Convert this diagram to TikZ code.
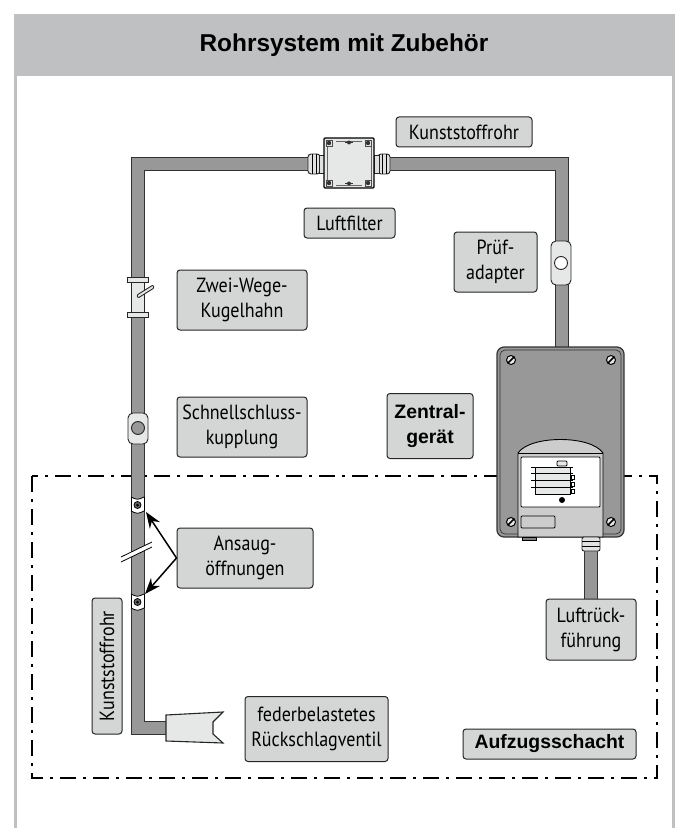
\documentclass[tikz,border=0pt]{standalone}
\usepackage{fontspec}
\setmainfont[FakeStretch=0.88]{PT Sans}
\newfontfamily\headfont{Liberation Sans}
\usetikzlibrary{shapes,positioning,calc,arrows.meta}
\definecolor{tagfill}{HTML}{D4D5D5}
\definecolor{pipefill}{HTML}{989898}
\definecolor{partfill}{HTML}{E6E7E7}
\definecolor{headfill}{HTML}{BFC0C1}
\begin{document}
\begin{tikzpicture}[x=1pt,y=-1pt,
      tagbox/.style={draw=black!85,fill=tagfill,rounded corners=3pt,line width=1pt,align=center,inner sep=0pt,font=\fontsize{20.5}{25}\selectfont},
      tagbold/.style={tagbox,font=\headfont\bfseries\fontsize{19.4}{25}\selectfont},
      pipeout/.style={draw=black!80,line width=14pt,line join=miter},
      pipein/.style={draw=pipefill,line width=12pt,line join=miter},
      part/.style={draw=black!85,fill=partfill,line width=0.9pt},
      gland/.style={draw=black!85,fill=black!12,line width=0.9pt},
      screwhead/.style={draw=black,fill=partfill,line width=1pt}
      ]
      \useasboundingbox (0,0) rectangle (677,829);
      % frame and title
      \fill[headfill] (14,14) rectangle (675,76);
      \fill[headfill] (14,76) rectangle (17,828);
      \fill[headfill] (672,76) rectangle (675,828);
      \node[font=\headfont\bfseries\fontsize{24.4}{28}\selectfont] (title) at (344,45) {Rohrsystem mit Zubehör};
      % shaft
      \draw[line width=1.5pt,dash pattern=on 16pt off 7pt on 3pt off 7pt] (32,476) rectangle (657,778);
      % points on the pipes
      \coordinate (P1) at (137.5,728);
      \coordinate (P0) at (170,728);
      \coordinate (P2) at (137.5,164);
      \coordinate (P3) at (561.5,164);
      \coordinate (P4) at (561.5,352);
      \coordinate (P5) at (591,535);
      \coordinate (P6) at (591,599);
      \draw[pipeout] (P0) -- (P1) -- (P2) -- (P3) -- (P4);
      \draw[pipein] (P0) -- (P1) -- (P2) -- (P3) -- (P4);
      \draw[pipeout] (P5) -- (P6);
      \draw[pipein] (P5) -- (P6);
      % ball valve
      \fill[part] (131,281) rectangle (144,314);
      \draw[part] (127,277) rectangle (148,282);
      \draw[part] (127,312) rectangle (148,317);
      \draw[part,rounded corners=1pt] (137,295) -- (153,285) -- (154,288) -- (138,298) -- cycle;
      % couplings
      \draw[part,rounded corners=5pt] (128,413) rectangle (148,444);
      \draw[draw=black!85,fill=pipefill,line width=0.9pt] (138,428) circle (6.5);
      \draw[part,rounded corners=5pt] (551,241) rectangle (571,285);
      \draw[draw=black!85,fill=white,line width=0.9pt] (561,263) circle (6.5);
      % intake holes
      \foreach \holey in {505,602}{
        \fill[white] (131,\holey-8) .. controls (137.5,\holey-5) .. (144,\holey-8) -- (144,\holey+6) .. controls (137.5,\holey+9) .. (131,\holey+6) -- cycle;
        \draw[line width=0.8pt] (131,\holey-8) .. controls (137.5,\holey-5) .. (144,\holey-8);
        \draw[line width=0.8pt] (131,\holey+6) .. controls (137.5,\holey+9) .. (144,\holey+6);
        \draw[line width=0.8pt] (131,\holey-8) -- (131,\holey+6) (144,\holey-8) -- (144,\holey+6);
        \draw[fill=black!60,line width=0.8pt] (137.5,\holey) circle (3.5);
        \fill[black] (137.5,\holey) circle (1.5);
      }
      % pipe break
      \fill[white] (121,557) -- (152,542) -- (152,547) -- (121,562) -- cycle;
      \draw[line width=0.8pt] (121,557) -- (152,542) (121,562) -- (152,547);
      % check valve
      \draw[part,line width=1.1pt] (166,715) -- (223,712) -- (213,722) -- (213,734) -- (223,743) -- (166,741) -- cycle;
      % filter box with cable glands
      \draw[gland,rounded corners=3pt] (308,154) rectangle (320,174);
      \draw[gland,rounded corners=3pt] (378,154) rectangle (390,174);
      \draw[line width=0.5pt] (312,154) -- (312,174) (316,154) -- (316,174) (382,154) -- (382,174) (386,154) -- (386,174);
      \draw[gland] (319,155) rectangle (324,173);
      \draw[gland] (374,155) rectangle (379,173);
      \draw[draw=black,line width=1.2pt,fill=partfill,rounded corners=1pt] (324,138) rectangle (374,188);
      \draw[line width=0.5pt,draw=black!60] (327,146) -- (327,180) (371,146) -- (371,180) (336,141) -- (362,141) (336,185) -- (362,185);
      \foreach \cornerx in {329,368}{
        \foreach \cornery in {143,183}{
          \fill[black!80] (\cornerx,\cornery) circle (2.2);
          \draw[line width=0.5pt,draw=black!70] (\cornerx-3,\cornery-3) rectangle (\cornerx+3,\cornery+3);
        }
      }
      \foreach \notchy in {142.5,183.5}{
        \fill[black!80] (349,\notchy) circle (2);
        \draw[line width=0.8pt,draw=black!80] (345,\notchy) -- (353,\notchy);
      }
      % central unit
      \draw[fill=pipefill,line width=1.2pt,draw=black!80,rounded corners=7pt] (497,347) rectangle (624,537);
      \draw[line width=0.7pt,draw=black!80,rounded corners=5pt] (500,350) rectangle (621,534);
      \draw[fill=black!20,line width=0.9pt] (518,537) -- (518,453) .. controls (530,435) and (591,435) .. (603,453) -- (603,537) -- cycle;
      \draw[line width=0.8pt] (518,453) -- (603,453);
      \draw[fill=white,line width=0.8pt,rounded corners=1pt] (521,457) rectangle (600,507);
      \draw[fill=partfill,line width=0.8pt,rounded corners=1pt] (557,461) rectangle (567,466);
      \fill[partfill] (535,467) rectangle (570,494);
      \draw[line width=0.8pt] (531,467) -- (573,467) (531,473.5) -- (573,473.5) (531,480) -- (573,480) (531,487) -- (573,487) (535,494) -- (571,494) (535,467) -- (535,494) (570,467) -- (570,494);
      \foreach \ledy in {477,484,491}{
        \draw[fill=white,line width=0.7pt] (571,\ledy-2) rectangle (574,\ledy+2);
      }
      \fill[black] (562,500) circle (3);
      \draw[fill=black!20,line width=0.8pt,rounded corners=1pt] (521,516) rectangle (555,528);
      \foreach \screwx/\screwy in {511/360,611/360,511/522,611/522}{
        \draw[screwhead] (\screwx,\screwy) circle (4.5);
        \draw[line width=1.5pt] (\screwx-3,\screwy+3) -- (\screwx+3,\screwy-3);
      }
      % gland at the return pipe
      \draw[gland,rounded corners=2pt] (582,537) rectangle (600,551);
      \draw[line width=0.5pt] (582,541) -- (600,541) (582,546) -- (600,546);
      \draw[fill=black!50,line width=0.7pt] (522,537) rectangle (536,540);
      % labels
      \node[tagbox,minimum width=136pt,minimum height=30pt] (Rohr1) at (464,132) {Kunststoffrohr};
      \node[tagbox,minimum width=91pt,minimum height=30pt] (Filter) at (349.5,223) {Luftfilter};
      \node[tagbox,minimum width=83pt,minimum height=60pt] (Adapter) at (495.5,262) {Prüf-\\adapter};
      \node[tagbox,minimum width=130pt,minimum height=60pt] (Hahn) at (242,300) {Zwei-Wege-\\Kugelhahn};
      \node[tagbox,minimum width=130pt,minimum height=60pt] (Kupplung) at (242,427) {Schnellschluss-\\kupplung};
      \node[tagbold,minimum width=86pt,minimum height=65pt] (Zentral) at (430,426) {Zentral-\\gerät};
      \node[tagbox,minimum width=136pt,minimum height=60pt] (Ansaug) at (245,558) {Ansaug-\\öffnungen};
      \node[tagbox,minimum width=136pt,minimum height=30pt,rotate=90] (Rohr2) at (107,666) {Kunststoffrohr};
      \node[tagbox,minimum width=143pt,minimum height=65pt] (Ventil) at (316.5,729) {federbelastetes\\Rückschlagventil};
      \node[tagbox,minimum width=90pt,minimum height=61pt] (Rueck) at (591,629.5) {Luftrück-\\führung};
      \node[tagbold,minimum width=173pt,minimum height=30pt] (Schacht) at (549.5,744) {Aufzugsschacht};
      % arrows
      \coordinate (H1) at (146,512);
      \coordinate (H2) at (145,594);
      \foreach \hole in {H1,H2}{
        \draw[-{Stealth[length=16pt,width=12pt]},line width=1.5pt] (Ansaug.west) -- (\hole);
      }
    \end{tikzpicture}
\end{document}
